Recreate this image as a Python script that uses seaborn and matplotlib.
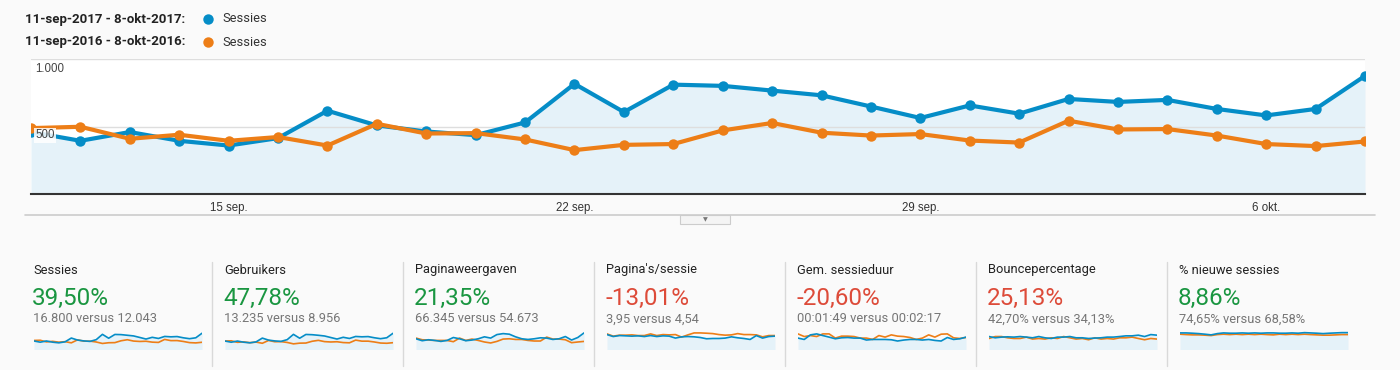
import matplotlib
matplotlib.use("Agg")
import matplotlib.pyplot as plt
from matplotlib.lines import Line2D
from matplotlib.patches import Rectangle
import seaborn as sns
import numpy as np
import pandas as pd

# ---- data ----
period_2017 = "11-sep-2017 - 8-okt-2017:"
period_2016 = "11-sep-2016 - 8-okt-2016:"
series_name = "Sessies"

# daily sessions, 11 sep .. 8 okt
sessies_2017 = [459, 394, 459, 394, 359, 414, 617, 508, 463, 436, 530, 816, 607, 810,
                801, 766, 731, 648, 563, 656, 595, 704, 682, 697, 630, 582, 630, 875]
sessies_2016 = [488, 498, 409, 439, 394, 422, 359, 520, 448, 451, 404, 325, 364, 370,
                471, 526, 454, 433, 444, 396, 381, 543, 478, 481, 433, 370, 355, 389]

tick_days = [4, 11, 18, 25]
tick_labels = ["15 sep.", "22 sep.", "29 sep.", "6 okt."]

# scorecards
card_titles = ["Sessies", "Gebruikers", "Paginaweergaven", "Pagina's/sessie",
               "Gem. sessieduur", "Bouncepercentage", "% nieuwe sessies"]
card_changes = ["39,50%", "47,78%", "21,35%", "-13,01%", "-20,60%", "25,13%", "8,86%"]
card_good = [True, True, True, False, False, False, True]
card_compare = ["16.800 versus 12.043", "13.235 versus 8.956", "66.345 versus 54.673",
                "3,95 versus 4,54", "00:01:49 versus 00:02:17", "42,70% versus 34,13%",
                "74,65% versus 68,58%"]

# sparkline series (2017, 2016); scale of each given by spark_ymax
gebruikers_2017 = [360, 310, 360, 310, 285, 325, 485, 400, 365, 345, 420, 645, 480, 640,
                   630, 605, 575, 510, 445, 520, 470, 555, 540, 550, 500, 460, 500, 690]
gebruikers_2016 = [360, 370, 305, 325, 290, 315, 265, 385, 330, 335, 300, 240, 270, 275,
                   350, 390, 335, 320, 330, 295, 285, 400, 355, 355, 320, 275, 265, 290]
paginaweergaven_2017 = [11, 9, 10, 9.3, 8.3, 9.3, 12.3, 11, 9, 9.7, 11, 13, 11.7, 15.3,
                        16.3, 15.7, 13, 11, 10.3, 11, 12, 11.7, 10.3, 11, 13.3, 9.7, 12.3, 17]
paginaweergaven_2016 = [11.7, 10, 9.7, 9.3, 9.3, 9.3, 8, 11.7, 9.3, 10.7, 9.3, 7.7, 6.7, 8.3,
                        10.7, 11, 10.3, 10.3, 9.3, 8.7, 8.7, 12.7, 10.7, 10.7, 10, 7, 7.7, 8.3]
paginas_sessie_2017 = [15.3, 13.3, 14.3, 14, 13.7, 14, 13.3, 14.3, 13.3, 14, 13.7, 11.7, 13, 13.3,
                       13, 12.3, 11, 11.3, 11.3, 11.7, 13, 12, 11.3, 10.3, 14.3, 11.7, 13.3, 13.7]
paginas_sessie_2016 = [16, 13.7, 14.7, 14.7, 15, 14.3, 14.3, 16, 14.3, 15.3, 15, 15.3, 12.7, 15,
                       17, 17, 16.7, 16.3, 15.3, 14.7, 15, 16.3, 15.3, 15.3, 15, 13, 14.3, 14.3]
sessieduur_2017 = [11.7, 10.3, 15, 16, 14.3, 12.7, 11, 12, 12.3, 11.7, 11.7, 9.7, 10.3, 10.3,
                   10.3, 10, 8.7, 9.7, 10.3, 10.3, 9.7, 10.3, 9.3, 8.7, 12.3, 10.3, 11, 12.7]
sessieduur_2016 = [16, 13.3, 14.3, 13.3, 16, 16, 11.7, 13.7, 13.7, 13.3, 11.7, 11.7, 10.3, 14.3,
                   12.7, 15, 13.7, 13.3, 12.3, 10.3, 11.7, 15, 12.7, 15.7, 16, 12, 11.3, 12.3]
bounce_2017 = [13.3, 12, 12.7, 13, 12.7, 13.3, 12.7, 12, 13.3, 12, 11.3, 12.7, 12.7, 13.3,
               12, 12, 11.3, 11.7, 12, 12.7, 12.7, 13.3, 14, 14, 14.7, 13.3, 15.3, 14.7]
bounce_2016 = [11.3, 13.3, 13.3, 12, 11.3, 11.3, 12.7, 10.7, 11.3, 10.7, 12, 11.3, 13.3, 12,
               10.7, 11.3, 10, 12, 10.7, 11.3, 10.7, 12, 12, 12.7, 11.3, 10, 11.3, 10.7]
nieuw_2017 = [17, 17, 16.7, 16.3, 15.7, 15, 16.3, 17, 16.7, 16.7, 17, 16.7, 17, 16.7,
              17, 17, 16.7, 16.7, 17, 16.7, 17.3, 17, 16.7, 16.3, 16.7, 17, 17.3, 17.3]
nieuw_2016 = [15.7, 15.3, 15, 15, 14.7, 14.3, 15.3, 15.7, 15.3, 15.7, 15.3, 15.7, 15.3, 15.7,
              15.3, 15, 15.7, 15.3, 15.7, 15.3, 15.7, 15.3, 15, 14.7, 14.7, 15, 15.3, 15.3]

spark_2017 = [sessies_2017, gebruikers_2017, paginaweergaven_2017, paginas_sessie_2017,
              sessieduur_2017, bounce_2017, nieuw_2017]
spark_2016 = [sessies_2016, gebruikers_2016, paginaweergaven_2016, paginas_sessie_2016,
              sessieduur_2016, bounce_2016, nieuw_2016]
spark_ymax = [1050, 830, 20, 20, 20, 20, 20]

# ---- style ----
BLUE = "#058dc7"
ORANGE = "#ed7e17"
FILL = "#e5f2f9"
GREEN = "#1a9641"
RED = "#dd4b39"
BG = "#fafafa"

sns.set_theme(style="white")
plt.rcParams["font.family"] = ["Roboto", "DejaVu Sans"]

W, H = 1400, 370
fig = plt.figure(figsize=(W / 100, H / 100), dpi=100, facecolor=BG)


def fx(x):
    return x / W


def fy(y):
    return 1 - y / H


def box(x0, y0, x1, y1):
    # pixel box (top-left origin) -> figure rect
    return [fx(x0), fy(y1), fx(x1 - x0), (y1 - y0) / H]


days = list(range(len(sessies_2017)))
df = pd.DataFrame({
    "dag": days + days,
    "sessies": sessies_2017 + sessies_2016,
    "periode": [period_2017] * len(days) + [period_2016] * len(days),
})

# ---- main chart ----
ax = fig.add_axes(box(31, 59, 1365, 194))
ax.set_facecolor("white")
ax.fill_between(days, sessies_2017, color=FILL, zorder=0, linewidth=0)
for v in (500, 1000):
    ax.axhline(v, color="#dedede", linewidth=1, zorder=0.5)
sns.lineplot(data=df, x="dag", y="sessies", hue="periode",
             hue_order=[period_2017, period_2016], palette=[BLUE, ORANGE],
             marker="o", markersize=7.5, markeredgewidth=0, linewidth=3,
             legend=False, ax=ax, zorder=3)
ax.set_xlim(0, len(days) - 1)
ax.set_ylim(0, 1000)
ax.set_xlabel("")
ax.set_ylabel("")
ax.set_yticks([])
ax.set_xticks(tick_days)
ax.set_xticklabels(tick_labels, fontsize=8.3, color="#333333",
                   fontfamily=["Liberation Sans", "DejaVu Sans"])
ax.tick_params(axis="x", length=0, pad=6)
for s in ("top", "left", "right"):
    ax.spines[s].set_visible(False)
ax.spines["bottom"].set_color("#333333")
ax.spines["bottom"].set_linewidth(1.5)
ax.annotate("1.000", xy=(0, 1000), xytext=(4, -4), textcoords="offset pixels",
            ha="left", va="top", fontsize=8.3, color="#444444",
            fontfamily=["Liberation Sans", "DejaVu Sans"])
ax.annotate("500", xy=(0, 500), xytext=(4, -3), textcoords="offset pixels",
            ha="left", va="top", fontsize=8.3, color="#444444", zorder=5,
            fontfamily=["Liberation Sans", "DejaVu Sans"],
            bbox=dict(boxstyle="square,pad=0.1", fc="white", ec="none", alpha=0.85))

# legend rows
for y, lab, col in ((19, period_2017, BLUE), (42, period_2016, ORANGE)):
    fig.text(fx(25), fy(y), lab, fontsize=9.5, fontweight="bold", color="#222222",
             ha="left", va="center")
    fig.add_artist(Line2D([fx(208)], [fy(y)], marker="o", markersize=7.5,
                          color=col, markeredgewidth=0, transform=fig.transFigure))
    fig.text(fx(222), fy(y), series_name, fontsize=9.3, color="#333333",
             ha="left", va="center")

# divider below the chart with the small toggle tab
fig.add_artist(Line2D([fx(25), fx(1375)], [fy(215), fy(215)], color="#cccccc",
                      linewidth=1.2, transform=fig.transFigure))
fig.add_artist(Rectangle((fx(680), fy(224)), fx(50), 9 / H, transform=fig.transFigure,
                         facecolor="#f4f4f4", edgecolor="#cccccc", linewidth=0.8))
fig.text(fx(705), fy(219.5), "▼", fontsize=4.5, color="#777777", ha="center", va="center")

# ---- scorecards ----
for i in range(len(card_titles)):
    x0 = 33 + 191 * i
    if i > 0:
        fig.add_artist(Line2D([fx(x0 - 12), fx(x0 - 12)], [fy(262), fy(366)],
                              color="#d9d9d9", linewidth=1, transform=fig.transFigure))
    fig.text(fx(x0), fy(270), card_titles[i], fontsize=9.3, color="#222222",
             ha="left", va="center")
    fig.text(fx(x0 - 1), fy(298), card_changes[i], fontsize=17.5,
             color=GREEN if card_good[i] else RED, ha="left", va="center")
    fig.text(fx(x0), fy(319), card_compare[i], fontsize=9.3, color="#767676",
             ha="left", va="center")

    sp = fig.add_axes(box(x0 + 1, 330, x0 + 169, 349.5))
    sp.set_facecolor("none")
    idx = list(range(len(spark_2017[i])))
    sp.fill_between(idx, spark_2017[i], color=FILL, linewidth=0, zorder=0)
    sns.lineplot(x=idx, y=spark_2016[i], color=ORANGE, linewidth=1.2, ax=sp, zorder=2)
    sns.lineplot(x=idx, y=spark_2017[i], color=BLUE, linewidth=1.2, ax=sp, zorder=3)
    sp.set_xlim(0, len(idx) - 1)
    sp.set_ylim(0, spark_ymax[i])
    sp.axis("off")

fig.savefig("out.png", dpi=100, facecolor=BG)
